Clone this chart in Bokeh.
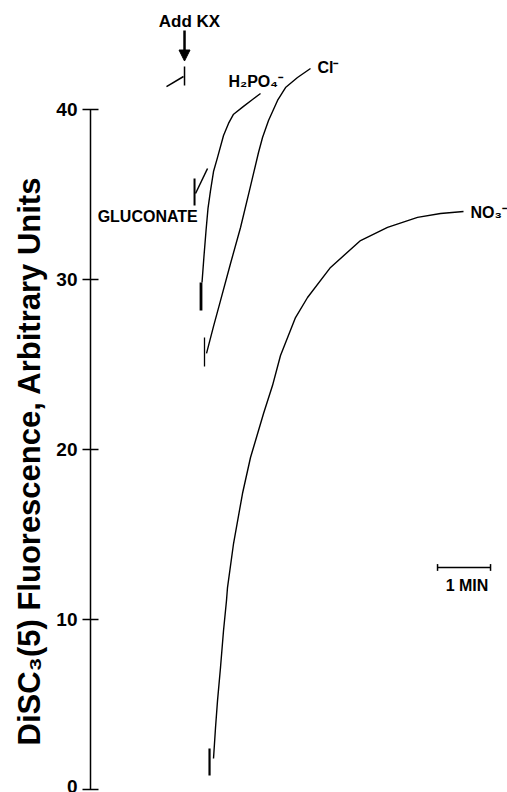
from bokeh.plotting import figure
from bokeh.models import Range1d, Arrow, NormalHead, FixedTicker, ColumnDataSource, Title
from bokeh.core.properties import value
from bokeh.embed import file_html
from bokeh.resources import INLINE

FONT = "Liberation Sans"

# time in minutes after KX addition, fluorescence in arbitrary units
h2po4_t = [0.330, 0.368, 0.406, 0.443, 0.491, 0.547, 0.623, 0.736, 0.830, 0.920, 1.113, 1.283, 1.434]
h2po4_f = [29.82, 31.41, 32.88, 34.18, 35.24, 36.35, 37.18, 38.47, 39.18, 39.70, 40.18, 40.59, 40.94]

cl_t = [0.415, 0.547, 0.679, 0.868, 1.057, 1.226, 1.396, 1.472, 1.585, 1.755, 1.906, 2.132, 2.377]
cl_f = [25.65, 27.24, 28.76, 30.94, 33.06, 35.24, 37.47, 38.35, 39.35, 40.53, 41.29, 41.88, 42.41]

no3_t = [0.547, 0.585, 0.623, 0.679, 0.736, 0.792, 0.811, 0.925, 1.094, 1.245, 1.491, 1.660,
         1.811, 2.094, 2.321, 2.755, 3.321, 3.830, 4.396, 4.830, 5.264]
no3_f = [1.82, 3.65, 5.24, 7.18, 9.35, 11.12, 11.88, 14.47, 17.41, 19.53, 22.12, 23.76,
         25.53, 27.76, 28.94, 30.71, 32.29, 33.06, 33.65, 33.88, 34.00]

# short trace fragments at the moment of addition (x0, y0, x1, y1, width)
mark_x0 = [-0.340, 0.000, 0.189, 0.208, 0.311, 0.377, 0.472]
mark_y0 = [41.35, 42.53, 35.94, 35.06, 29.82, 26.59, 2.41]
mark_x1 = [-0.019, 0.000, 0.189, 0.434, 0.311, 0.377, 0.472]
mark_y1 = [41.94, 41.41, 34.35, 36.53, 28.18, 24.88, 0.82]
mark_w = [1.5, 1.5, 2.0, 1.5, 2.8, 1.3, 2.2]

# curve labels
lab_text = ["H₂PO₄⁻", "Cl⁻", "NO₃⁻"]
lab_x = [0.830, 2.509, 5.396]
lab_y = [41.65, 42.45, 33.94]

gluc_text = ["GLUCONATE"]
gluc_x = [0.250]
gluc_y = [33.70]

add_text = ["Add KX"]
add_x = [0.094]
add_y = [45.18]
add_arrow = (0.0, 44.65, 0.0, 42.85)

scale_x = [4.774, 5.774]
scale_y = [13.06, 13.06]
scale_text = ["1 MIN"]
scale_tx = [5.33]
scale_ty = [12.00]

y_ticks = [0, 10, 20, 30, 40]
y_title = "DiSC₃(5) Fluorescence, Arbitrary Units"

p = figure(width=507, height=792, output_backend="svg", toolbar_location=None,
           x_range=Range1d(-1.774, 6.094), y_range=Range1d(-0.176, 46.41),
           min_border_left=90, min_border_right=0, min_border_top=0, min_border_bottom=0)
p.xaxis.visible = False
p.grid.visible = False
p.outline_line_color = None
p.background_fill_color = "white"
p.border_fill_color = "white"

ax = p.yaxis[0]
ax.bounds = (0, 40)
ax.ticker = FixedTicker(ticks=y_ticks)
ax.major_tick_in = 8
ax.major_tick_out = 8
ax.minor_tick_line_color = None
ax.axis_line_width = 1.5
ax.axis_line_color = "black"
ax.major_tick_line_color = "black"
ax.major_tick_line_width = 1.3
ax.major_label_text_font = FONT
ax.major_label_text_font_style = "bold"
ax.major_label_text_font_size = "19px"
ax.major_label_text_color = "black"
ax.major_label_standoff = 5

p.add_layout(Title(text=y_title, align="left", offset=47, standoff=14,
                   text_font=FONT, text_font_style="bold", text_font_size="31px",
                   text_color="black"), "left")

for t, f in [(h2po4_t, h2po4_f), (cl_t, cl_f), (no3_t, no3_f)]:
    p.line(t, f, line_color="black", line_width=1.4)

p.segment(x0="x0", y0="y0", x1="x1", y1="y1", line_width="w", line_color="black",
          source=ColumnDataSource(dict(x0=mark_x0, y0=mark_y0, x1=mark_x1, y1=mark_y1, w=mark_w)))

p.text(lab_x, lab_y, text=lab_text, text_font=value(FONT), text_font_size="16px",
       text_font_style="bold", text_align="left", text_baseline="middle", text_color="black")
p.text(gluc_x, gluc_y, text=gluc_text, text_font=value(FONT), text_font_size="16px",
       text_font_style="bold", text_align="right", text_baseline="middle", text_color="black")
p.text(add_x, add_y, text=add_text, text_font=value(FONT), text_font_size="17px",
       text_font_style="bold", text_align="center", text_baseline="middle", text_color="black")
p.add_layout(Arrow(end=NormalHead(size=11, fill_color="black", line_color="black"),
                   x_start=add_arrow[0], y_start=add_arrow[1], x_end=add_arrow[2], y_end=add_arrow[3],
                   line_width=2.5, line_color="black"))

p.line(scale_x, scale_y, line_color="black", line_width=1.5)
p.segment(x0=scale_x, y0=[y - 0.2 for y in scale_y], x1=scale_x, y1=[y + 0.2 for y in scale_y],
          line_color="black", line_width=1.5)
p.text(scale_tx, scale_ty, text=scale_text, text_font=value(FONT), text_font_size="16px",
       text_font_style="bold", text_align="center", text_baseline="middle", text_color="black")

open("out.html", "w").write(file_html(p, INLINE))
